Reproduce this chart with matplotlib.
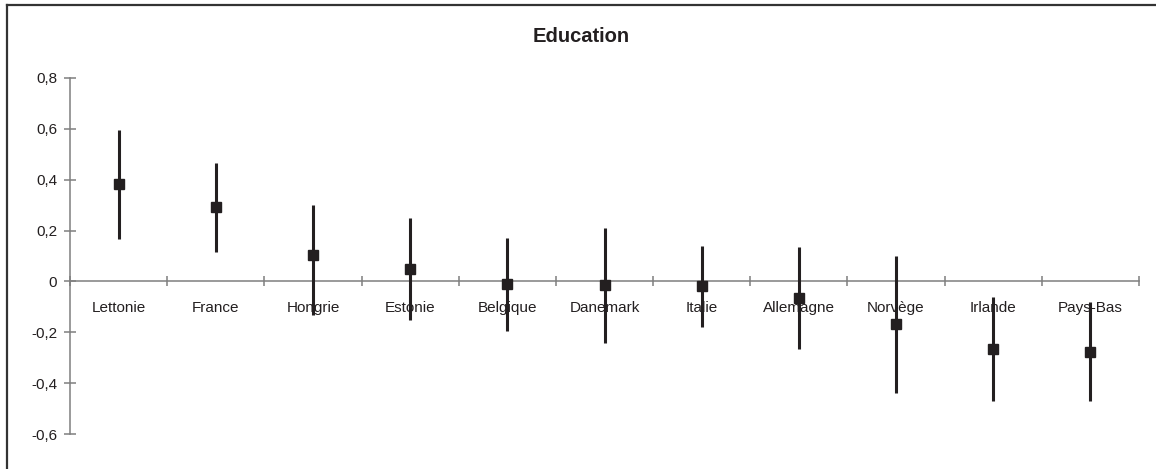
import numpy as np
import matplotlib.pyplot as plt
from matplotlib.lines import Line2D

plt.rcParams['font.family'] = ['Liberation Sans', 'DejaVu Sans']

countries = ['Lettonie', 'France', 'Hongrie', 'Estonie', 'Belgique', 'Danemark',
             'Italie', 'Allemagne', 'Norvège', 'Irlande', 'Pays-Bas']
estimate = [0.382, 0.293, 0.102, 0.049, -0.010, -0.013, -0.019, -0.065, -0.167, -0.265, -0.277]
upper = [0.596, 0.467, 0.301, 0.251, 0.170, 0.210, 0.140, 0.135, 0.101, -0.062, -0.082]
lower = [0.168, 0.115, -0.130, -0.153, -0.194, -0.242, -0.180, -0.264, -0.438, -0.471, -0.471]
yticks = [-0.6, -0.4, -0.2, 0, 0.2, 0.4, 0.6, 0.8]
ytick_labels = ['-0,6', '-0,4', '-0,2', '0', '0,2', '0,4', '0,6', '0,8']

W, H = 1156, 469
fig = plt.figure(figsize=(W / 100, H / 100), dpi=100)
ax = fig.add_axes([70 / W, 1 - 434.3 / H, (1139 - 70) / W, (434.3 - 77.7) / H])

x = np.arange(len(countries))
dark = '#231f20'
ax.vlines(x, lower, upper, color=dark, lw=2.2, zorder=3)
ax.plot(x, estimate, 's', color=dark, ms=7.5, zorder=4)

ax.set_xlim(-0.5, len(countries) - 0.5)
ax.set_ylim(-0.6, 0.8)

for s in ['top', 'right']:
    ax.spines[s].set_visible(False)
ax.spines['bottom'].set_position(('data', 0))
ax.spines['bottom'].set_color('#7f7f7f')
ax.spines['left'].set_color('#7f7f7f')
ax.spines['bottom'].set_linewidth(1.1)
ax.spines['left'].set_linewidth(1.1)

ax.set_yticks(yticks)
ax.set_yticklabels(ytick_labels)
ax.tick_params(axis='y', direction='inout', length=8.6, width=1.1, color='#7f7f7f',
               pad=5, labelsize=11, labelcolor='#231f20')

ax.set_xticks(np.arange(-0.5, len(countries), 1.0))
ax.set_xticklabels([])
ax.set_xticks(x, minor=True)
ax.set_xticklabels(countries, minor=True)
ax.tick_params(axis='x', which='major', direction='inout', length=6.5, width=1.1, color='#7f7f7f')
ax.tick_params(axis='x', which='minor', length=0, pad=14, labelsize=11, labelcolor='#231f20')

fig.text(581 / W, 1 - 37 / H, 'Education', ha='center', va='center',
         fontsize=14.5, fontweight='bold', color='#231f20')

# outer chart frame (cropped at right and bottom)
fig.add_artist(Line2D([7 / W, 7 / W], [0, 1 - 5 / H], transform=fig.transFigure,
                      color='#333333', lw=1.6))
fig.add_artist(Line2D([7 / W, 1], [1 - 5 / H, 1 - 5 / H], transform=fig.transFigure,
                      color='#333333', lw=1.6))

fig.savefig('out.png', dpi=100)
